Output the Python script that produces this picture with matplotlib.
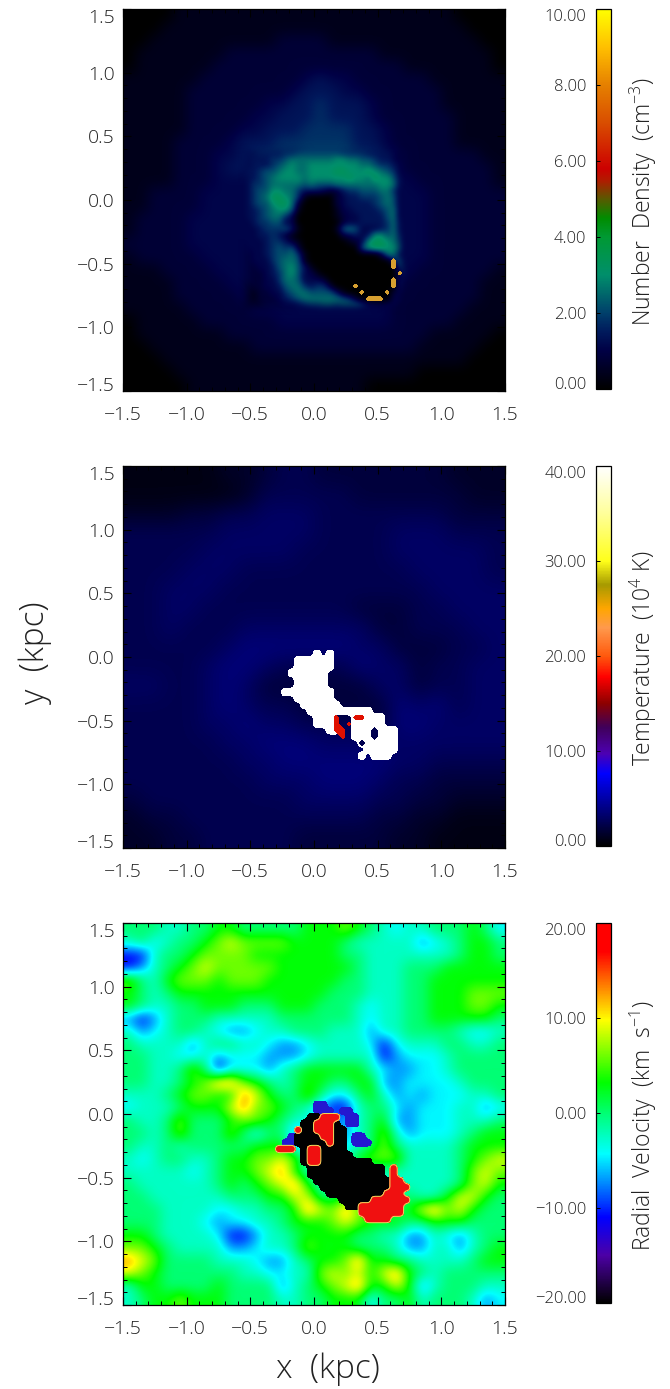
#!/usr/bin/env python3
import numpy as np
import matplotlib
matplotlib.use('Agg')
import matplotlib.pyplot as plt
from matplotlib.colors import LinearSegmentedColormap, Normalize
from matplotlib.cm import ScalarMappable

plt.rcParams['font.family'] = ['Open Sans', 'DejaVu Sans']
plt.rcParams['font.weight'] = 'light'
plt.rcParams['mathtext.default'] = 'regular'

TEXT = '#222222'
W, H = 670, 1389

TICKS = [-1.5, -1.0, -0.5, 0.0, 0.5, 1.0, 1.5]
TICK_LABELS = ['\u22121.5', '\u22121.0', '\u22120.5', '0.0', '0.5', '1.0', '1.5']

# density, whole panel, 0.1 kpc cells, top row first (digit -> level below)
DENS_LEVELS = [0, .4, .8, 1.1, 1.4, 1.8, 2.2, 2.6, 3.0, 3.4]
DENS_COARSE = [
    "000011111111111111111111110000",
    "000111111111111111111111111000",
    "001111111111222211111111111100",
    "011111112222222222221111111110",
    "011111122222222222222211111110",
    "111111222222223433222222111111",
    "111112222222234443322222211111",
    "111112222223344544432222211111",
    "111112222233444544432222221111",
    "111112222334445555443222221111",
    "111122223444555555443222221111",
    "111122233455556666554322222211",
    "111122234443333333333322222221",
    "111122233333333333333332222221",
    "112222333333333333333333222222",
    "112222333333333333333333222222",
    "122223333333333333333333222222",
    "122223333333333333333333222222",
    "222223333333333333333333222222",
    "122222333333333333333333222222",
    "111222233333333333333332222221",
    "111122223333333333333322222211",
    "111122222333333333333222222211",
    "111112222233333333333222222111",
    "011111222222333333333222221111",
    "011111112222222222222222111110",
    "001111111122222222222221111100",
    "000111111111111111111111111000",
    "000011111111111111111110000000",
    "000001111111111111100000000000",
]
# density ring, 0.05 kpc cells, x -0.6..0.75, y 0.45..-0.9
DENS_RING_EXTENT = [-0.6, 0.75, -0.9, 0.45]
DENS_RING = [
    "333344444444444444444443322",
    "333444455666666655554444322",
    "334445567777777887766544322",
    "334445678778888888877655432",
    "344566788778888998889876532",
    "344567888878888889887988643",
    "345567777767666777777788743",
    "345668877544432245566677533",
    "345679987510000234455567633",
    "345668997200000234444567633",
    "344567886100000133444456733",
    "344567753000000123344446733",
    "334556633000000023344445743",
    "333455564100000167633345743",
    "333445421000000023434886753",
    "333345542100000001238998763",
    "233345656200000000068998873",
    "223345667510000000000027743",
    "223335677610000000000000474",
    "222334678641000000000000065",
    "222234578633100000000000026",
    "122233577633320000000000043",
    "112233467754552000000000043",
    "111223356776666410000000232",
    "111222345677777765200000332",
    "111122233456677677763223322",
    "111112222333444444433333222",
]

# core grid shared by the masks below, 0.05 kpc cells
CORE_EXTENT = [-0.4, 0.8, -0.9, 0.2]
DENS_RIM = [
    "........................",
    "........................",
    "........................",
    "........................",
    "........................",
    "........................",
    "........................",
    "........................",
    "........................",
    "........................",
    "........................",
    "........................",
    "........................",
    "....................#...",
    "....................#...",
    ".....................#..",
    "....................#...",
    "..............#.....#...",
    "...............#...#....",
    "................###.....",
    "........................",
    "........................",
]

TEMP_DIGIT_STEP = 0.6
TEMP_COARSE = [
    "11111223443333333222",
    "11111124444433333322",
    "22233445554444444333",
    "44444555554444555444",
    "44445555544444555554",
    "44455544444444455554",
    "44555444444444445555",
    "44554444444433344555",
    "44544455555553344455",
    "44444566666655333445",
    "44445665444465534455",
    "55445653333335534455",
    "44445654433333656455",
    "44445565544443665555",
    "44444556665555555555",
    "44444455666666554444",
    "44444445556665443333",
    "34444444455554433222",
    "23344444444443322111",
    "22334444433333221111",
]
TEMP_CORE = [
    "........................",
    "........................",
    "........................",
    "........#.#.............",
    ".....######.............",
    ".....######.............",
    "....######..............",
    ".....#####..............",
    ".....#####..............",
    "...########.............",
    ".....######.............",
    "......######............",
    ".......##########.......",
    "........###...#####.....",
    "........###...#####.....",
    "..........##..#######...",
    "..............#######...",
    "...............######...",
    "................#####...",
    "...............#.###....",
    "........................",
    "........................",
]
TEMP_RIM = [
    "........................",
    "........................",
    "........................",
    "........................",
    "........................",
    "........................",
    "........................",
    "........................",
    "........................",
    "........................",
    "........................",
    "........................",
    "........................",
    "...........#..##........",
    "...........#.#..........",
    "...........##...........",
    "............#...........",
    "........................",
    "........................",
    "........................",
    "........................",
    "........................",
]
TEMP_HOLE = [
    "........................",
    "........................",
    "........................",
    "........................",
    "........................",
    "........................",
    "........................",
    "........................",
    "........................",
    "........................",
    "........................",
    "........................",
    "........................",
    "........................",
    "........................",
    ".................#......",
    ".................#......",
    "...............#........",
    "........................",
    "........................",
    "........................",
    "........................",
]

# velocity, 0.1 kpc cells, top row first
VEL_LEVELS = [-11, -7, -4.5, -2.5, 0, 3, 6, 9, 13]
VEL_COARSE = [
    "4443344554 4444555654 3233444542",
    "3423445676 6665555433 3331234554",
    "0034456666 5555555443 3333334554",
    "0134567666 6655555543 3344455555",
    "6435666566 6555555443 3344555555",
    "5434555555 5555554443 3344555666",
    "5433445554 4455544432 3344555665",
    "1013444333 3344444432 3344555554",
    "3123443211 2334443331 3344443223",
    "4333313443 3211233332 0233344334",
    "4433223122 2111233333 0122234444",
    "4433464022 2134555553 2112234444",
    "4433456886 5434554455 1122223444",
    "3334566558 7544642245 3121222334",
    "2333455578 6654310034 4212223312",
    "4334644456 6543311134 5112223334",
    "4434644464 2441111134 6312223455",
    "4334344444 5551111234 6433334555",
    "3234433455 6676323356 6633334567",
    "3333323455 6785333333 3333334676",
    "4333333454 5678533433 3333334675",
    "4433333344 4557744555 5443357754",
    "4443333223 3445876865 5457867544",
    "4443332122 3345556765 5544555444",
    "5543333200 1334555544 3311321344",
    "6654333311 2334655544 4311331345",
    "8764444333 2113455685 5443333455",
    "7654444443 3223367675 7854344444",
    "3554444544 4413456785 5751344433",
    "3455655544 4433445552 4453444312",
]
VEL_CORE = [
    "........................",
    "........................",
    "........BB..............",
    "........BBB.BB..........",
    ".......kkrrr.BB.........",
    "......kkrrrk.BB.........",
    ".....rkkrrrkk...........",
    "....Bkkkkrrkk.BB........",
    "...BBkkkkkrkk.BBB.......",
    "..rrr.krrkkkk...........",
    "......krrkkkkk..........",
    "......krrkkkkkkkk.......",
    ".......kkkkkkkkkkkk.r...",
    ".......kkkkkkkkkkkk.r...",
    "........kkkkkkkkkkkkrr..",
    ".........kkkkkkkkkkkrrr.",
    "..........kkkkkkkkkrrr..",
    "............kkkkkrrrrrr.",
    ".............kkrrrrrrr..",
    "...............rrrrrrr..",
    "................rrrr....",
    "........................",
]

BAR_TICKS = [
    [0, 2, 4, 6, 8, 10],
    [0, 10, 20, 30, 40],
    [-20, -10, 0, 10, 20],
]
BAR_LABELS = [
    'Number  Density  (cm$^{-3}$)',
    'Temperature  (10$^{4}$ K)',
    'Radial  Velocity  (km  s$^{-1}$)',
]
BAR_RANGE = [(0, 10), (0, 40), (-20, 20)]
PANEL_TOP = [9, 466, 923]
BAR_LABEL_CENTER = [202, 658, 1126]


def make_cmap(stops, vmin, vmax):
    pts = [((v - vmin) / (vmax - vmin), c) for v, c in stops]
    return LinearSegmentedColormap.from_list('c', pts, N=512)


dens_cmap = make_cmap([
    (0, (0, 0, 0)), (1, (0, 0, .27)), (1.5, (0, .1, .36)), (2, (0, .25, .42)),
    (3, (0, .56, .42)), (4, (0, .6, .2)), (4.5, (0, .55, 0)), (5, (.35, .35, 0)),
    (5.5, (.7, .1, 0)), (5.8, (.8, 0, 0)), (7, (.85, .3, 0)), (8, (.9, .5, 0)),
    (9, (1, .75, 0)), (10, (1, 1, 0))], 0, 10)
temp_cmap = make_cmap([
    (0, (0, 0, 0)), (7.6, (0, 0, 1)), (9.7, (.3, 0, .7)), (12.5, (.25, 0, .35)),
    (15, (.55, 0, 0)), (17.8, (1, 0, 0)), (20, (1, .35, .05)), (23, (1, .6, .3)),
    (25, (1, .65, 0)), (27.5, (.65, .6, 0)), (30, (1, 1, .1)), (35, (1, 1, .6)),
    (40, (1, 1, 1))], 0, 40)
vel_cmap = make_cmap([
    (-20, (0, 0, 0)), (-15, (.3, 0, .65)), (-11, (0, 0, 1)), (-4.3, (0, 1, 1)),
    (0, (0, 1, .45)), (3.2, (0, 1, 0)), (9.8, (1, 1, 0)), (17, (1, 0, 0)),
    (20, (1, 0, 0))], -20, 20)


def digits(rows, levels=None):
    out = []
    for r in rows:
        vals = [int(c) for c in r.replace(' ', '')]
        out.append([levels[v] if levels is not None else v for v in vals])
    return np.array(out, dtype=float)


def mask(rows, chars='#'):
    return np.array([[1.0 if c in chars else 0.0 for c in r] for r in rows])


def core_xy(m):
    x0, x1, y0, y1 = CORE_EXTENT
    nr, nc = m.shape
    dx = (x1 - x0) / nc
    dy = (y1 - y0) / nr
    return x0 + dx * (np.arange(nc) + .5), y1 - dy * (np.arange(nr) + .5)


def rounded(m, k=4):
    # blow the cell mask up and soften it, so the outlines are not cell corners
    big = np.kron(m, np.ones((k, k)))
    big = np.pad(big, k, constant_values=0)
    for _ in range(2):
        for axis in (0, 1):
            big = (np.roll(big, 1, axis) + big + np.roll(big, -1, axis)) / 3
    return big


def fill(ax, rows, chars, color, level=0.4, z=3):
    b = rounded(mask(rows, chars))
    nr, nc = mask(rows, chars).shape
    x0, x1, y0, y1 = CORE_EXTENT
    dx = (x1 - x0) / nc / 4
    dy = (y1 - y0) / nr / 4
    x = x0 - 4 * dx + dx * (np.arange(b.shape[1]) + .5)
    y = y1 + 4 * dy - dy * (np.arange(b.shape[0]) + .5)
    ax.contourf(x, y, b, levels=[level, 2], colors=[color], zorder=z)
    return x, y, b


def px_axes(x, top, w, h):
    return fig.add_axes([x / W, 1 - (top + h) / H, w / W, h / H])


fig = plt.figure(figsize=(W / 100, H / 100), dpi=100)

axes = []
for top in PANEL_TOP:
    ax = px_axes(123, top, 382, 382)
    axes.append(ax)

FULL = [-1.5, 1.5, -1.5, 1.5]

ax = axes[0]
ax.imshow(digits(DENS_COARSE, DENS_LEVELS), extent=FULL, cmap=dens_cmap,
          vmin=0, vmax=10, interpolation='bicubic', aspect='auto', zorder=1)
ring = digits(DENS_RING, DENS_LEVELS)
nr, nc = ring.shape
ramp_x = np.minimum(np.arange(nc), np.arange(nc)[::-1]) / 2
ramp_y = np.minimum(np.arange(nr), np.arange(nr)[::-1]) / 2
ring_alpha = np.clip(np.minimum.outer(ramp_y, ramp_x), 0, 1)
ax.imshow(ring, extent=DENS_RING_EXTENT, cmap=dens_cmap, alpha=ring_alpha,
          vmin=0, vmax=10, interpolation='bicubic', aspect='auto', zorder=2)
m = mask(DENS_RIM)
x, y = core_xy(m)
ax.contourf(x, y, m, levels=[0.72, 2], colors=['#d8a030'], zorder=4)

ax = axes[1]
ax.imshow(digits(TEMP_COARSE) * TEMP_DIGIT_STEP, extent=FULL, cmap=temp_cmap,
          vmin=0, vmax=40, interpolation='bicubic', aspect='auto', zorder=1)
fill(ax, TEMP_CORE, '#', 'white', level=0.36)
m = mask(TEMP_RIM)
x, y = core_xy(m)
ax.contourf(x, y, m, levels=[0.72, 2], colors=['#e01000'], zorder=4)
m = mask(TEMP_HOLE)
ax.contourf(x, y, m, levels=[0.6, 2], colors=['#000050'], zorder=4)

ax = axes[2]
ax.imshow(digits(VEL_COARSE, VEL_LEVELS), extent=FULL, cmap=vel_cmap,
          vmin=-20, vmax=20, interpolation='bicubic', aspect='auto', zorder=1)
fill(ax, VEL_CORE, 'B', '#2418d0', level=0.45)
fill(ax, VEL_CORE, 'k', 'black', z=3.1)
x, y, b = fill(ax, VEL_CORE, 'r', '#f01010', z=3.2)
ax.contour(x, y, b, levels=[0.4], colors=['#e8e060'], linewidths=.7, zorder=4)

for ax in axes:
    ax.set_xlim(-1.5, 1.5)
    ax.set_ylim(-1.5, 1.5)
    ax.set_xticks(TICKS)
    ax.set_yticks(TICKS)
    ax.set_xticks(np.arange(-15, 16) / 10, minor=True)
    ax.set_yticks(np.arange(-15, 16) / 10, minor=True)
    ax.set_xticklabels(TICK_LABELS)
    ax.set_yticklabels(TICK_LABELS)
    ax.tick_params(which='major', direction='in', top=True, right=True, length=6,
                   width=.8, labelsize=14, labelcolor=TEXT)
    ax.tick_params(which='minor', direction='in', top=True, right=True, length=3, width=.7)
    ax.tick_params(axis='x', which='major', pad=11)
    ax.tick_params(axis='y', which='major', pad=6)
    labs = ax.get_yticklabels()
    labs[0].set_va('baseline')
    labs[-1].set_va('top')
    for s in ax.spines.values():
        s.set_linewidth(.9)

cmaps = [dens_cmap, temp_cmap, vel_cmap]
for i, top in enumerate(PANEL_TOP):
    cax = px_axes(596, top, 15, 380)
    sm = ScalarMappable(Normalize(*BAR_RANGE[i]), cmaps[i])
    cb = fig.colorbar(sm, cax=cax)
    cb.set_ticks(BAR_TICKS[i])
    cb.set_ticklabels(['%.2f' % t if t >= 0 else '\u2212%.2f' % abs(t) for t in BAR_TICKS[i]])
    cax.yaxis.set_ticks_position('left')
    cax.tick_params(direction='in', length=3, width=.7, labelsize=12, labelcolor=TEXT, pad=7)
    labs = cax.get_yticklabels()
    labs[0].set_va('baseline')
    labs[-1].set_va('top')
    cb.outline.set_linewidth(.9)
    fig.text(643 / W, 1 - BAR_LABEL_CENTER[i] / H, BAR_LABELS[i], rotation=90,
             ha='center', va='center', fontsize=16.5, color=TEXT)

fig.text(35 / W, 1 - 653 / H, 'y  (kpc)', rotation=90, ha='center', va='center',
         fontsize=24, color=TEXT)
fig.text(328 / W, 1 - 1369 / H, 'x  (kpc)', ha='center', va='center', fontsize=24, color=TEXT)

fig.savefig('out.png', dpi=100)
